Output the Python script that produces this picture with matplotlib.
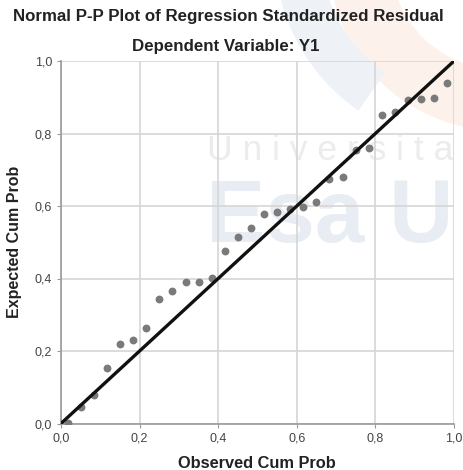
import numpy as np
import matplotlib
matplotlib.use('Agg')
import matplotlib.pyplot as plt
from matplotlib.ticker import FuncFormatter
from matplotlib.patches import Wedge
from matplotlib.transforms import IdentityTransform

plt.rcParams['font.family'] = ['Liberation Sans', 'DejaVu Sans']

# observed / expected cumulative probabilities
observed = [0.017, 0.050, 0.083, 0.117, 0.150, 0.183, 0.217, 0.250, 0.283, 0.317,
            0.350, 0.383, 0.417, 0.450, 0.483, 0.517, 0.550, 0.583, 0.617, 0.650,
            0.683, 0.717, 0.750, 0.783, 0.817, 0.850, 0.883, 0.917, 0.950, 0.983]
expected = [0.001, 0.046, 0.079, 0.153, 0.219, 0.230, 0.263, 0.343, 0.366, 0.390,
            0.390, 0.401, 0.476, 0.514, 0.539, 0.578, 0.583, 0.592, 0.597, 0.611,
            0.674, 0.680, 0.754, 0.760, 0.851, 0.859, 0.892, 0.895, 0.898, 0.939]
ticks = [0.0, 0.2, 0.4, 0.6, 0.8, 1.0]

title = 'Normal P-P Plot of Regression Standardized Residual'
subtitle = 'Dependent Variable: Y1'


def main():
    fig = plt.figure(figsize=(4.64, 4.70), dpi=100)

    # faint watermark behind the plot (logo swooshes + text)
    fig.patches.append(Wedge((500, 510), 170, 180, 270, width=60,
                             color='#fdf2eb', transform=IdentityTransform(),
                             zorder=-3))
    fig.patches.append(Wedge((470, 520), 195, 190, 235, width=45,
                             color='#eef2f7', transform=IdentityTransform(),
                             zorder=-3))
    fig.text(0.447, 0.68, 'U n i v e r s i t a', fontsize=25.5, color='#ececec',
             ha='left', va='center', zorder=-1)
    fig.text(0.445, 0.535, 'Esa U', fontsize=64, fontweight='bold',
             color='#e8edf3', ha='left', va='center', zorder=-1)

    ax = fig.add_axes([61 / 464, 46.5 / 470, 393 / 464, 362.5 / 470])
    ax.patch.set_alpha(0)

    ax.scatter(observed, expected, s=32, color='#7a7a7a', zorder=3,
               linewidths=0)
    ax.plot([0, 1], [0, 1], color='#111111', lw=2.4, zorder=4,
            solid_capstyle='butt')

    ax.set_xlim(0, 1)
    ax.set_ylim(0, 1)
    ax.set_xticks(ticks)
    ax.set_yticks(ticks)
    fmt = FuncFormatter(lambda v, p: '{:.1f}'.format(v).replace('.', ','))
    ax.xaxis.set_major_formatter(fmt)
    ax.yaxis.set_major_formatter(fmt)
    ax.tick_params(labelsize=9, colors='#444444', length=3, width=0.8,
                   color='#999999')
    ax.grid(True, color='#d6d6d6', lw=1.2)
    ax.set_axisbelow(True)
    for s in ['top', 'right']:
        ax.spines[s].set_visible(False)
    for s in ['left', 'bottom']:
        ax.spines[s].set_color('#999999')
        ax.spines[s].set_linewidth(1.2)

    fig.text(257 / 464, 1 - 463 / 470, 'Observed Cum Prob', fontsize=11.8,
             fontweight='bold', color='#222222', ha='center', va='center')
    fig.text(15 / 464, 1 - 242 / 470, 'Expected Cum Prob', fontsize=11.5,
             fontweight='bold', color='#222222', ha='center', va='center',
             rotation=90)

    fig.text(228.5 / 464, 1 - 17 / 470, title, fontsize=12.2, fontweight='bold',
             color='#222222', ha='center', va='center')
    fig.text(226 / 464, 1 - 47 / 470, subtitle, fontsize=12.2, fontweight='bold',
             color='#222222', ha='center', va='center')

    fig.savefig('out.png', dpi=100)


if __name__ == '__main__':
    main()
